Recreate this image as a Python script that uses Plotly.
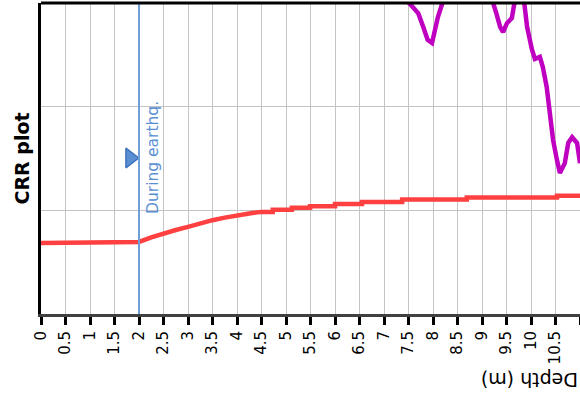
import plotly.graph_objects as go

# Depth (m) and CRR values (steps encoded as repeated depths)
red_depth = [0, 2.0, 2.25, 2.5, 2.75, 3.0, 3.25, 3.5, 3.75, 4.0, 4.25, 4.5,
             4.73, 4.73, 5.12, 5.12, 5.49, 5.49, 6.0, 6.0, 6.55, 6.55, 7.37, 7.37, 8.69, 8.69, 10.53, 10.53, 11.2]
red_crr = [0.137, 0.139, 0.148, 0.156, 0.162, 0.168, 0.175, 0.181, 0.186, 0.191, 0.194, 0.197,
           0.197, 0.201, 0.201, 0.205, 0.205, 0.208, 0.208, 0.212, 0.212, 0.216, 0.216, 0.221, 0.221, 0.225, 0.225, 0.228, 0.228]

mag_depth = [7.4, 7.49, 7.6, 7.7, 7.8, 7.89, 7.98, 8.04, 8.1, 8.2, 8.25,
             9.15, 9.22, 9.29, 9.37, 9.43, 9.51, 9.61, 9.67, 9.75,
             9.8, 9.92, 10.02, 10.08, 10.18, 10.24, 10.32, 10.39, 10.45, 10.53, 10.59, 10.69, 10.76, 10.84, 10.94, 11.0]
mag_crr = [0.65, 0.602, 0.591, 0.580, 0.554, 0.529, 0.523, 0.548, 0.573, 0.602, 0.65,
           0.65, 0.602, 0.581, 0.554, 0.544, 0.561, 0.571, 0.602, 0.65,
           0.65, 0.554, 0.510, 0.492, 0.496, 0.477, 0.438, 0.388, 0.336, 0.297, 0.272, 0.291, 0.330, 0.341, 0.330, 0.291]

event_depth = 2.0
event_label = "During earthq."
marker_depth = [1.82]
marker_crr = [0.301]

x_ticks = [i * 0.5 for i in range(23)]
x_ticktext = [("%g" % v) for v in x_ticks]

blue = "#6f9fd8"

fig = go.Figure()
fig.add_trace(go.Scatter(x=red_depth, y=red_crr, mode="lines", line=dict(color="#ff4040", width=4.5),
                         showlegend=False, hoverinfo="skip"))
fig.add_trace(go.Scatter(x=mag_depth, y=mag_crr, mode="lines", line=dict(color="#c000c0", width=4.5),
                         showlegend=False, hoverinfo="skip"))
fig.add_trace(go.Scatter(x=marker_depth, y=marker_crr, mode="markers",
                         marker=dict(symbol="triangle-right", size=17, color="#5b8fd4", line=dict(color="#3d72bd", width=1.5)),
                         showlegend=False, hoverinfo="skip"))

fig.add_shape(type="line", xref="x", yref="paper", x0=event_depth, x1=event_depth, y0=0, y1=1,
              line=dict(color=blue, width=2))
fig.add_shape(type="line", xref="paper", yref="paper", x0=0, x1=1, y0=1, y1=1,
              line=dict(color="black", width=3))

fig.add_annotation(x=event_depth, y=0.301, xref="x", yref="y", text=event_label, textangle=-90,
                   showarrow=False, xanchor="left", xshift=3, yanchor="middle",
                   font=dict(family="DejaVu Sans", size=15.5, color="#5b8fd4"))
fig.add_annotation(x=-41 / 539, y=0.5, xref="paper", yref="paper", text="<b>CRR plot</b>", textangle=-90,
                   showarrow=False, xanchor="left", xshift=8, yanchor="middle",
                   font=dict(family="DejaVu Sans", size=19, color="black"))
fig.add_annotation(x=1, y=0, xref="paper", yref="paper", text="Depth (m)", textangle=180,
                   showarrow=False, xanchor="right", yanchor="top", yshift=-53,
                   font=dict(family="DejaVu Sans", size=19, color="black"))

fig.update_layout(
    width=580, height=398,
    margin=dict(l=41, r=0, t=3, b=84),
    plot_bgcolor="white", paper_bgcolor="white",
    xaxis=dict(range=[0, 11.0], tickmode="array", tickvals=x_ticks, ticktext=x_ticktext,
               tickangle=-90, ticks="outside", ticklen=8, tickwidth=3, tickcolor="black",
               showline=True, linecolor="#404040", linewidth=3,
               showgrid=True, gridcolor="#c4c4c4", gridwidth=1, zeroline=False,
               tickfont=dict(family="DejaVu Sans", size=15, color="black")),
    yaxis=dict(range=[0, 0.6], dtick=0.2, showticklabels=False, ticks="",
               showline=True, linecolor="black", linewidth=3,
               showgrid=True, gridcolor="#c4c4c4", gridwidth=1, zeroline=False),
)

fig.write_html("out.html", config={"displayModeBar": False},
               post_script="document.body.style.margin='0';document.body.style.overflow='hidden';")
